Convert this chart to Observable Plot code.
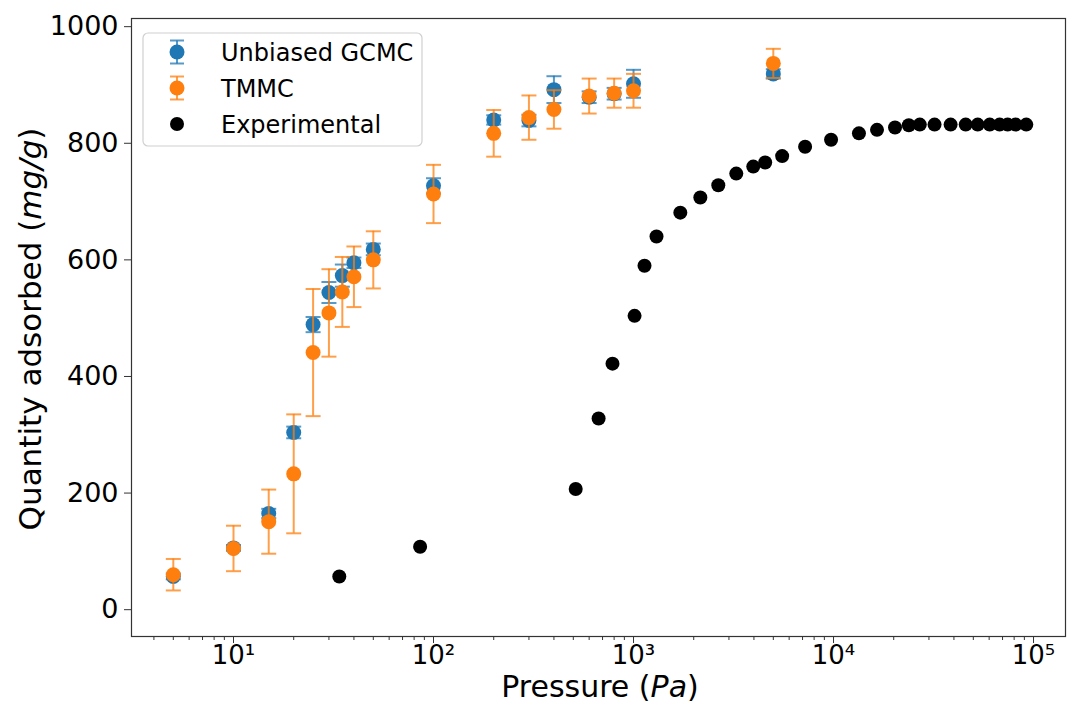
<!DOCTYPE html>
<html>
<head>
<meta charset="utf-8">
<script src="https://cdn.jsdelivr.net/npm/d3@7"></script>
<script src="https://cdn.jsdelivr.net/npm/@observablehq/plot@0.6"></script>
<style>
  html, body { margin: 0; padding: 0; background: white; }
</style>
</head>
<body>
<div id="chart"></div>
<script>
// ---- Data ----
const seriesNames = ["Unbiased GCMC", "TMMC", "Experimental"];
const seriesColors = ["#1f77b4", "#ff7f0e", "#000000"];

const gcmcP   = [5, 10, 15, 20, 25, 30, 35, 40, 50, 100, 200, 300, 400, 600, 800, 1000, 5000];
const gcmcQ   = [57, 106, 165, 304, 489, 544, 573, 595, 618, 727, 840, 839, 892, 879, 885, 902, 919];
const gcmcErr = [5, 5, 8, 10, 13, 18, 19, 9, 10, 13, 8, 10, 23, 10, 10, 24, 8];

const tmmcP   = [5, 10, 15, 20, 25, 30, 35, 40, 50, 100, 200, 300, 400, 600, 800, 1000, 5000];
const tmmcQ   = [60, 105, 151, 233, 441, 509, 545, 571, 600, 713, 817, 844, 858, 881, 886, 890, 937];
const tmmcErr = [27, 39, 55, 102, 109, 75, 60, 52, 49, 50, 40, 38, 33, 30, 25, 29, 25];

const expP = [33.8, 85.7, 514, 669, 785, 1012, 1135, 1303, 1714, 2158, 2654, 3264, 3969, 4553, 5536, 7210, 9720,
              13400, 16500, 20300, 23800, 27000, 32000, 38500, 45800, 52600, 60400, 67700, 74200, 81300, 92000];
const expQ = [57, 108, 207, 328, 422, 504, 590, 640, 681, 707, 728, 748, 760, 767, 778, 794, 806,
              817, 823, 827, 831, 832, 832, 832, 832, 832, 832, 832, 832, 832, 832];

const xMajorTicks = [10, 100, 1000, 10000, 100000];
const xMajorLabels = ["10¹", "10²", "10³", "10⁴", "10⁵"];
const xMinorTicks = [4,5,6,7,8,9, 20,30,40,50,60,70,80,90, 200,300,400,500,600,700,800,900,
                     2000,3000,4000,5000,6000,7000,8000,9000, 20000,30000,40000,50000,60000,70000,80000,90000];
const yTicks = [0, 200, 400, 600, 800, 1000];

// ---- Tables ----
const gcmc = gcmcP.map((p, i) => ({p, q: gcmcQ[i], e: gcmcErr[i]}));
const tmmc = tmmcP.map((p, i) => ({p, q: tmmcQ[i], e: tmmcErr[i]}));
const exp  = expP.map((p, i) => ({p, q: expQ[i]}));

const capSymbol = { draw(ctx) { ctx.moveTo(-7.5, 0); ctx.lineTo(7.5, 0); } };

function errMarks(data, color) {
  return [
    Plot.ruleX(data, {x: "p", y1: d => d.q - d.e, y2: d => d.q + d.e, stroke: color, strokeWidth: 2, strokeOpacity: 0.75}),
    Plot.dot(data, {x: "p", y: d => d.q - d.e, symbol: capSymbol, r: 5, fill: "none", stroke: color, strokeWidth: 2, strokeOpacity: 0.75}),
    Plot.dot(data, {x: "p", y: d => d.q + d.e, symbol: capSymbol, r: 5, fill: "none", stroke: color, strokeWidth: 2, strokeOpacity: 0.75}),
    Plot.dot(data, {x: "p", y: "q", r: 7.5, fill: color, stroke: "none"})
  ];
}

const chart = Plot.plot({
  width: 1067,
  height: 704,
  marginLeft: 131,
  marginRight: 2,
  marginTop: 18,
  marginBottom: 68,
  style: {fontFamily: "DejaVu Sans", fontSize: "27px", background: "white", color: "black"},
  x: {type: "log", domain: [3.09, 1.445e5], label: null},
  y: {domain: [-46, 1014], label: null},
  marks: [
    Plot.axisX({ticks: xMinorTicks, tickSize: 4, tickFormat: () => "", label: null, stroke: "#333"}),
    Plot.axisX({ticks: xMajorTicks, tickSize: 7, tickPadding: 2, label: null, stroke: "#333",
                tickFormat: d => xMajorLabels[xMajorTicks.indexOf(d)], fontSize: 26}),
    Plot.axisY({ticks: yTicks, tickSize: 7, tickPadding: 6, label: null, stroke: "#333",
                tickFormat: d => String(d), fontSize: 27}),
    ...errMarks(gcmc, seriesColors[0]),
    ...errMarks(tmmc, seriesColors[1]),
    Plot.dot(exp, {x: "p", y: "q", r: 7, fill: seriesColors[2], stroke: "none"}),
    Plot.frame({stroke: "#333", strokeWidth: 1.2})
  ]
});

document.getElementById("chart").appendChild(chart);

// ---- Axis labels and legend (pixel layout) ----
const svg = d3.select(chart);

const xl = svg.append("text")
  .attr("x", 600).attr("y", 697)
  .attr("text-anchor", "middle")
  .attr("font-family", "DejaVu Sans").attr("font-size", 30).attr("fill", "black");
xl.append("tspan").text("Pressure (");
xl.append("tspan").attr("font-style", "italic").text("Pa");
xl.append("tspan").text(")");

const yl = svg.append("text")
  .attr("transform", "translate(41,329) rotate(-90)")
  .attr("text-anchor", "middle")
  .attr("font-family", "DejaVu Sans").attr("font-size", 31).attr("fill", "black");
yl.append("tspan").text("Quantity adsorbed (");
yl.append("tspan").attr("font-style", "italic").text("mg/g");
yl.append("tspan").text(")");

const lg = svg.append("g");
lg.append("rect")
  .attr("x", 143).attr("y", 33).attr("width", 279).attr("height", 113).attr("rx", 5)
  .attr("fill", "white").attr("fill-opacity", 0.85).attr("stroke", "#d0d0d0").attr("stroke-width", 1.2);
const rowY = [52, 88, 124];
seriesNames.forEach((name, i) => {
  const cy = rowY[i];
  const c = seriesColors[i];
  if (i < 2) {
    lg.append("line").attr("x1", 177).attr("x2", 177).attr("y1", cy - 11.5).attr("y2", cy + 11.5)
      .attr("stroke", c).attr("stroke-width", 2).attr("stroke-opacity", 0.75);
    [cy - 11.5, cy + 11.5].forEach(yy => lg.append("line")
      .attr("x1", 170).attr("x2", 184).attr("y1", yy).attr("y2", yy)
      .attr("stroke", c).attr("stroke-width", 2).attr("stroke-opacity", 0.75));
  }
  lg.append("circle").attr("cx", 177).attr("cy", cy).attr("r", i < 2 ? 7.5 : 7).attr("fill", c);
  lg.append("text").attr("x", 221).attr("y", cy + 9)
    .attr("text-anchor", "start")
    .attr("font-family", "DejaVu Sans").attr("font-size", 24).attr("fill", "black").text(name);
});
</script>
</body>
</html>
